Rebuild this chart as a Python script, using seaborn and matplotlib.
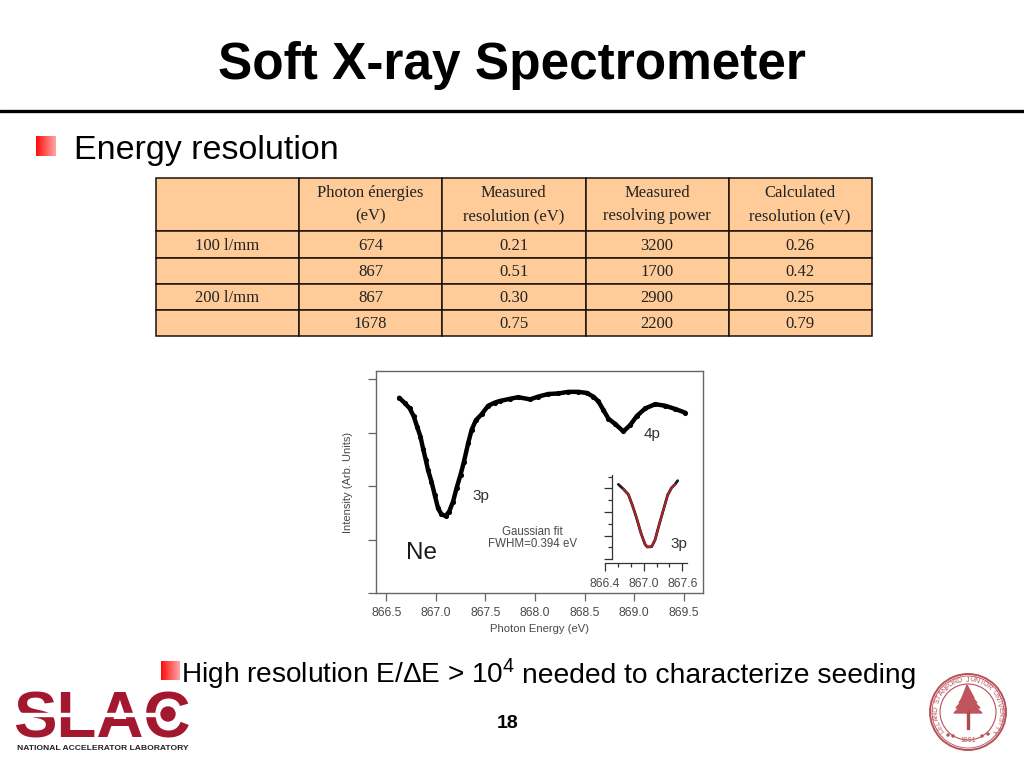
import numpy as np
import pandas as pd
import seaborn as sns
import matplotlib.pyplot as plt
from matplotlib.patches import Circle, Polygon, Rectangle

# table
col_line1 = ['Photon énergies', 'Measured', 'Measured', 'Calculated']
col_line2 = ['(eV)', 'resolution (eV)', 'resolving power', 'resolution (eV)']
gratings = ['100 l/mm', '', '200 l/mm', '']
photon_energies = ['674', '867', '867', '1678']
measured_res = ['0.21', '0.51', '0.30', '0.75']
resolving_power = ['3200', '1700', '2900', '2200']
calculated_res = ['0.26', '0.42', '0.25', '0.79']

# main spectrum
energy = [866.63, 866.685, 866.736, 866.776, 866.81, 866.844, 866.87, 866.897, 866.92, 866.955,
          866.988, 867.022, 867.056, 867.097, 867.133, 867.173, 867.208, 867.248, 867.282, 867.325,
          867.36, 867.403, 867.46, 867.527, 867.595, 867.645, 867.747, 867.83, 867.95, 868.03,
          868.134, 868.235, 868.336, 868.437, 868.522, 868.589, 868.64, 868.69, 868.74, 868.808,
          868.892, 868.96, 869.028, 869.112, 869.213, 869.314, 869.415, 869.516]
intensity = [3.65, 3.55, 3.45, 3.30, 3.11, 2.92, 2.70, 2.49, 2.30, 2.08,
             1.83, 1.58, 1.47, 1.44, 1.52, 1.71, 1.96, 2.21, 2.45, 2.80,
             3.05, 3.23, 3.34, 3.50, 3.56, 3.59, 3.63, 3.66, 3.62, 3.67,
             3.72, 3.73, 3.76, 3.76, 3.74, 3.67, 3.58, 3.42, 3.26, 3.16,
             3.02, 3.14, 3.31, 3.45, 3.53, 3.50, 3.44, 3.37]
energy_ticks = [866.5, 867.0, 867.5, 868.0, 868.5, 869.0, 869.5]

# inset, 3p line and its fit
inset_energy = [866.607, 866.685, 866.762, 866.824, 866.892, 866.959, 867.021, 867.057,
                867.125, 867.176, 867.239, 867.306, 867.373, 867.435, 867.487, 867.528]
inset_intensity = [6.34, 5.94, 5.49, 4.59, 3.46, 2.20, 1.27, 1.04,
                   1.07, 1.63, 2.90, 4.17, 5.44, 6.06, 6.34, 6.65]
inset_ticks = [866.4, 867.0, 867.6]

W, H = 1024, 768
GRAY = '#4a4a4a'
RED = '#a3182f'
SEAL = '#b8505a'
INK = '#222222'

sns.set_theme(style='ticks')
plt.rcParams['font.family'] = ['Liberation Sans', 'DejaVu Sans']
plt.rcParams['mathtext.fontset'] = 'custom'
plt.rcParams['mathtext.rm'] = 'Liberation Sans'
plt.rcParams['mathtext.default'] = 'regular'


def box(left, top, right, bottom):
    """pixel box -> figure fractions"""
    return [left / W, 1 - bottom / H, (right - left) / W, (bottom - top) / H]


fig = plt.figure(figsize=(W / 100, H / 100), dpi=100, facecolor='white')

# slide furniture goes on a full-size pixel axes
page = fig.add_axes([0, 0, 1, 1], zorder=5)
page.patch.set_alpha(0)
page.axis('off')

page.text(512, 65, 'Soft X-ray Spectrometer', ha='center', va='center', fontsize=37, fontweight='bold', color='black')
page.plot([0, W], [111, 111], color='black', lw=2.4)


def bullet(x0, y0, size):
    grad = np.linspace(0, 1, 32).reshape(1, -1)
    colors = np.dstack([np.ones_like(grad), 0.05 + 0.6 * grad, 0.05 + 0.6 * grad])
    page.imshow(colors, extent=[x0, x0 + size, y0 + size, y0], aspect='auto', interpolation='bilinear')


bullet(36, 136, 20)
bullet(161, 661, 19)
page.set_xlim(0, W)
page.set_ylim(H, 0)
page.text(74, 150, 'Energy resolution', ha='left', va='center', fontsize=24.5, color='black')
page.text(181, 674, r'High resolution E/$\Delta$E > 10$^{4}$', ha='left', va='center', fontsize=20.2, color='black')
page.text(522, 676, 'needed to characterize seeding', ha='left', va='center', fontsize=20.3, color='black')
page.text(508, 723, '18', ha='center', va='center', fontsize=14, fontweight='bold', color='black')

# table grid, its texts sit on the page axes
tab_ax = fig.add_axes(box(156, 178, 872, 336))
tab_ax.axis('off')
table = tab_ax.table(cellText=[[''] * 5 for _ in range(5)], colWidths=[1 / 5] * 5, bbox=[0, 0, 1, 1])
row_heights = [53, 27, 26, 26, 26]
for (r, c), cell in table.get_celld().items():
    cell.set_height(row_heights[r] / 158)
    cell.set_facecolor('#ffcc99')
    cell.set_edgecolor('#1a1208')
    cell.set_linewidth(1.1)

col_x = [227.5, 370.5, 513.7, 656.9, 800.1]
row_y = [246, 272, 298, 324]
for i, (l1, l2) in enumerate(zip(col_line1, col_line2)):
    page.text(col_x[i + 1], 193, l1, ha='center', va='center', fontsize=12, family='Liberation Serif', color=INK)
    page.text(col_x[i + 1], 216, l2, ha='center', va='center', fontsize=12, family='Liberation Serif', color=INK)
columns = [gratings, photon_energies, measured_res, resolving_power, calculated_res]
for x, col in zip(col_x, columns):
    for y, val in zip(row_y, col):
        page.text(x, y, val, ha='center', va='center', fontsize=12, family='Liberation Serif', color=INK)

# main spectrum
ax = fig.add_axes(box(376, 371, 703, 593))
spectrum = pd.DataFrame({'energy': energy, 'intensity': intensity})
sns.lineplot(data=spectrum, x='energy', y='intensity', ax=ax, color='black', lw=3.2, marker='o', markersize=3.7,
             markeredgewidth=0, sort=False, errorbar=None)
ax.set_xlim(866.395, 869.695)
ax.set_ylim(0, 4.15)
ax.set_xticks(energy_ticks)
ax.set_xticklabels([f'{v:.1f}' for v in energy_ticks], fontsize=8.7, color=GRAY)
ax.set_yticks([0, 1, 2, 3, 4])
ax.set_yticklabels([])
ax.tick_params(axis='y', length=5.8, width=0.9, color='#666666', direction='out')
ax.tick_params(axis='x', length=5.8, width=0.9, color='#666666', direction='out', pad=4.6)
ax.set_xlabel('Photon Energy (eV)', fontsize=8.1, color=GRAY, labelpad=3.5)
ax.set_ylabel('Intensity (Arb. Units)', fontsize=8, color=GRAY, labelpad=7.5)
for s in ax.spines.values():
    s.set_color('#666666')
    s.set_linewidth(1)
    s.set_visible(True)

# inset
inset = fig.add_axes(box(605, 475, 687, 563.3), zorder=3)
inset.patch.set_alpha(0)
fit = pd.DataFrame({'energy': inset_energy, 'intensity': inset_intensity})
sns.lineplot(data=fit, x='energy', y='intensity', ax=inset, color='#1a1a1a', lw=2, sort=False, errorbar=None)
sns.lineplot(data=fit.iloc[1:-1], x='energy', y='intensity', ax=inset, color='#a8252a', lw=1.5, sort=False, errorbar=None)
inset.set_xlim(866.4, 867.673)
inset.set_ylim(-0.34, 7.13)
inset.spines['top'].set_visible(False)
inset.spines['right'].set_visible(False)
inset.spines['left'].set_position(('data', 866.513))
inset.spines['left'].set_bounds(0, 7.13)
for s in ('left', 'bottom'):
    inset.spines[s].set_color('#333333')
    inset.spines[s].set_linewidth(0.9)
inset.set_xticks(inset_ticks)
inset.set_xticklabels([f'{v:.1f}' for v in inset_ticks], fontsize=8.7, color=GRAY)
inset.set_xticks([866.6, 866.8, 867.2, 867.4], minor=True)
inset.set_yticks([0, 2, 4, 6])
inset.set_yticklabels([])
inset.set_yticks([1, 3, 5, 7], minor=True)
inset.tick_params(axis='both', which='major', length=5.5, width=0.9, color='#333333', direction='out')
inset.tick_params(axis='both', which='minor', length=3, width=0.9, color='#333333', direction='out')
inset.tick_params(axis='x', which='major', pad=5)
inset.set_xlabel('')
inset.set_ylabel('')

page.text(421, 553, 'Ne', ha='center', va='center', fontsize=17.5, color='#1a1a1a')
page.text(481, 496, '3p', ha='center', va='center', fontsize=11, color='#333333')
page.text(652, 434, '4p', ha='center', va='center', fontsize=11, color='#333333')
page.text(679, 544, '3p', ha='center', va='center', fontsize=11, color='#333333')
page.text(532, 532, 'Gaussian fit', ha='center', va='center', fontsize=8.3, color=GRAY)
page.text(533, 544, 'FWHM=0.394 eV', ha='center', va='center', fontsize=8.3, color=GRAY)

# SLAC logo
page.text(102, 720, 'SLAC', ha='center', va='center', fontsize=47, fontweight='bold', color=RED)
page.add_patch(Rectangle((14, 712.5), 178, 3, color='white', zorder=4))
page.add_patch(Circle((168, 714), 12, color='white', zorder=4))
page.add_patch(Circle((168, 714), 7, color=RED, zorder=5))
page.text(102.5, 748, 'NATIONAL ACCELERATOR LABORATORY', ha='center', va='center', fontsize=6.1, fontweight='bold', color=INK)

# Stanford seal
cx, cy = 968, 712
page.add_patch(Circle((cx, cy), 38, fill=False, ec=SEAL, lw=1.4))
page.add_patch(Circle((cx, cy), 36, fill=False, ec=SEAL, lw=0.6))
page.add_patch(Circle((cx, cy), 28, fill=False, ec=SEAL, lw=0.8))
ring = 'LELAND STANFORD JUNIOR UNIVERSITY'
for ch, deg in zip(ring, np.linspace(215, -35, len(ring))):
    a = np.deg2rad(deg)
    page.text(cx + 32 * np.cos(a), cy - 32 * np.sin(a), ch, ha='center', va='center', fontsize=5,
              rotation=deg - 90, color=SEAL)
for y0, half in ((691, 6), (696, 9), (701, 12), (706, 14)):
    page.add_patch(Polygon([(cx - 1, y0 - 6), (cx - half, y0 + 7), (cx + half, y0 + 7)], color='#c05560'))
page.add_patch(Rectangle((cx - 1.2, 711), 2.4, 18, color='#b04a50'))
for dx, dy in ((948, 735), (953, 736), (982, 736), (988, 734)):
    page.add_patch(Circle((dx, dy), 1, color=SEAL))
page.text(cx, 741, '1891', ha='center', va='center', fontsize=5, color=SEAL)

fig.savefig('out.png', dpi=100)
